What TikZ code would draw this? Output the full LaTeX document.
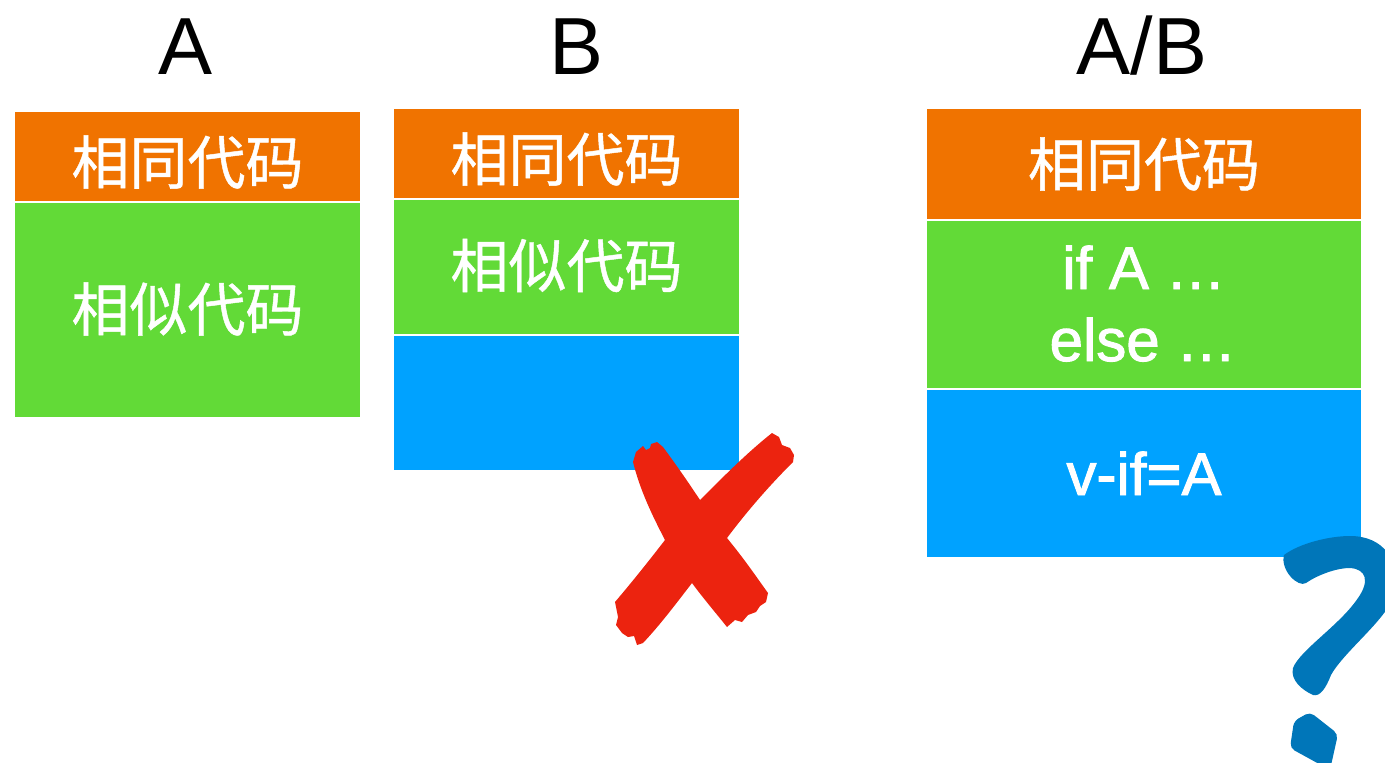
\documentclass[tikz,border=0pt]{standalone}
\usepackage{fontspec}
\setmainfont{Liberation Sans}
\newfontfamily\cjk{Noto Sans CJK SC}[FakeBold=0.8]
\newfontfamily\enmed{Liberation Sans}[FakeBold=1.6]
\definecolor{corange}{RGB}{240,115,0}
\definecolor{cgreen}{RGB}{98,218,55}
\definecolor{cblue}{RGB}{0,162,255}
\definecolor{cred}{RGB}{236,35,15}
\definecolor{cqblue}{RGB}{0,118,185}
\begin{document}
\begin{tikzpicture}[x=1pt,y=-1pt,
  title/.style={anchor=base,inner sep=0pt,font=\fontsize{81}{81}\selectfont,text=black},
  cjktext/.style={anchor=base,inner sep=0pt,font=\cjk\fontsize{58}{58}\selectfont,text=white},
  entext/.style={anchor=base,inner sep=0pt,font=\enmed\fontsize{60}{60}\selectfont,text=white}]
\useasboundingbox (0,0) rectangle (1385,763);
\clip (0,0) rectangle (1385,763);
% titles
\node[title] (tA) at (186,74) {A};
\node[title] (tB) at (577,74) {B};
\node[title] (tAB) at (1142,74) {A/B};
% box A
\fill[corange] (15,112) rectangle (360,200.5);
\fill[cgreen] (15,203) rectangle (360,417);
\node[cjktext] (a1) at (187.5,184) {相同代码};
\node[cjktext] (a2) at (187.5,331) {相似代码};
% box B
\fill[corange] (394,109) rectangle (739,198);
\fill[cgreen] (394,199.5) rectangle (739,334);
\fill[cblue] (394,335.5) rectangle (739,470);
\node[cjktext] (b1) at (566.5,181) {相同代码};
\node[cjktext] (b2) at (566.5,287.5) {相似代码};
% box A/B
\fill[corange] (927,109) rectangle (1361,219);
\fill[cgreen] (927,221) rectangle (1361,388);
\fill[cblue] (927,390) rectangle (1361,557);
\node[cjktext] (c1) at (1144,186) {相同代码};
\node[entext] (c2) at (1144,289) {if A \ldots};
\node[entext] (c3) at (1143,361) {else \ldots};
\node[entext] (c4) at (1144,495) {v-if=A};
% red cross
\fill[cred] (633,462) -- (636,452) -- (643,446) -- (646,450) -- (650,448) -- (651,444) -- (657,442) -- (663,447)
  .. controls (680,470) and (690,485) .. (700,500) -- (727,538)
  .. controls (745,560) and (755,575) .. (768,593)
  -- (766,602) -- (760,606) -- (756,612) -- (748,615) -- (742,622) -- (735,620) -- (727,627)
  .. controls (715,612) and (703,598) .. (692,583) -- (665,540)
  .. controls (652,515) and (640,490) .. (633,462) -- cycle;
\fill[cred] (772,433) -- (779,437) -- (782,445) -- (790,448) -- (794,455) -- (793,462)
  .. controls (770,485) and (748,510) .. (727,538) -- (692,583)
  .. controls (675,605) and (660,625) .. (643,643)
  -- (637,645) -- (634,636) -- (628,637) -- (622,633) -- (616,625) -- (618,617) -- (615,602)
  .. controls (632,582) and (648,562) .. (665,540) -- (700,500)
  .. controls (725,475) and (748,452) .. (772,433) -- cycle;
% question mark
\fill[cqblue] (1284,555) .. controls (1300,543) and (1330,536) .. (1350,536)
  .. controls (1385,536) and (1400,562) .. (1395,592)
  .. controls (1390,617) and (1345,650) .. (1331,675)
  .. controls (1326,688) and (1320,697) .. (1313,695)
  .. controls (1302,690) and (1290,680) .. (1293,668)
  .. controls (1300,650) and (1340,625) .. (1358,598)
  .. controls (1370,581) and (1366,569) .. (1350,568)
  .. controls (1335,568) and (1316,576) .. (1306,583)
  .. controls (1298,588) and (1280,570) .. (1284,555) -- cycle;
\fill[cqblue,rounded corners=5pt] (1294,721) -- (1310,712) -- (1338,734) -- (1330,770) -- (1290,748) -- cycle;
\end{tikzpicture}
\end{document}
